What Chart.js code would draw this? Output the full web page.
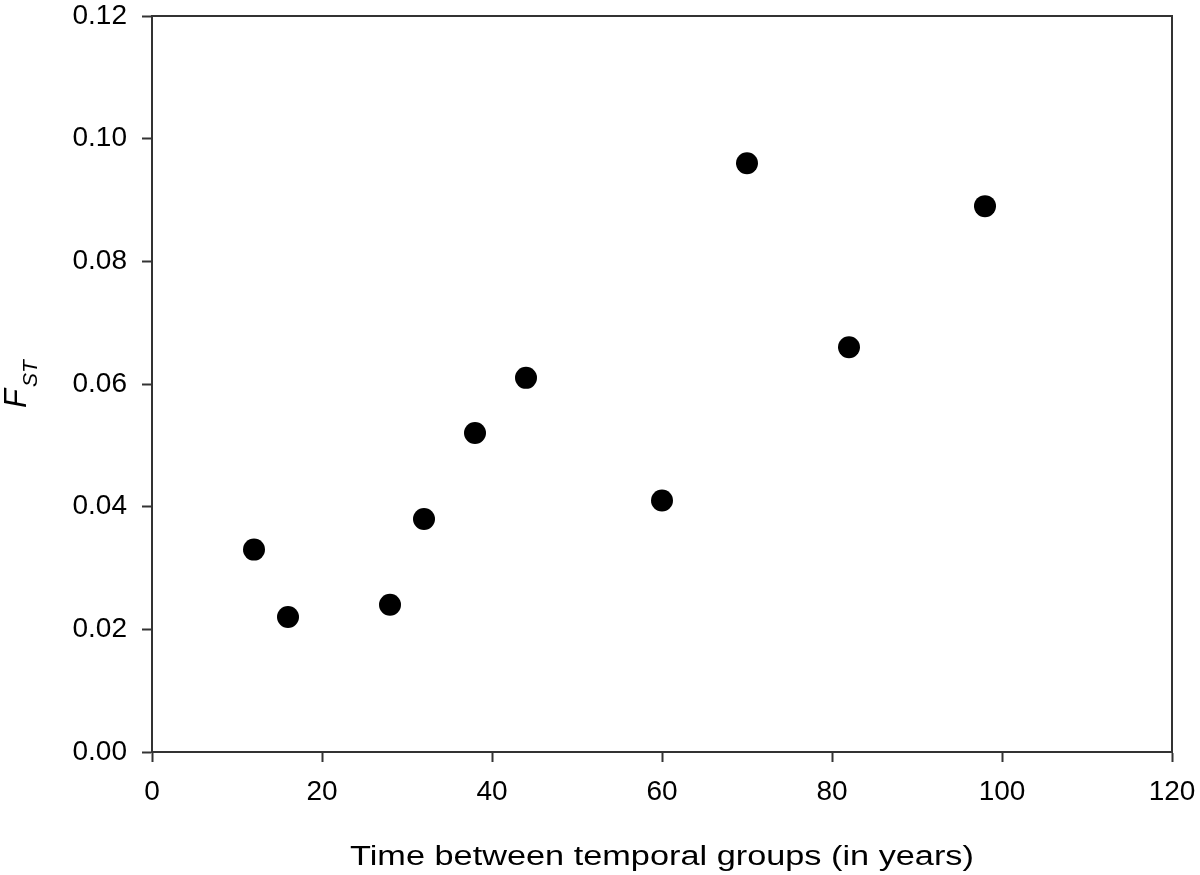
<!DOCTYPE html>
<html>
<head>
<meta charset="utf-8">
<script src="https://cdn.jsdelivr.net/npm/chart.js@4.4.0/dist/chart.umd.min.js"></script>
<style>
  html, body { margin: 0; padding: 0; background: #fff; }
  #wrap { width: 1200px; height: 875px; }
</style>
</head>
<body>
<div id="wrap"><canvas id="myChart" width="1200" height="875"></canvas></div>
<script>
// years between temporal groups, and FST for each pair
var years = [12, 16, 28, 32, 38, 44, 60, 70, 82, 98];
var fst = [0.033, 0.022, 0.024, 0.038, 0.052, 0.061, 0.041, 0.096, 0.066, 0.089];
var xTicks = [0, 20, 40, 60, 80, 100, 120];
var yTicks = ['0.00', '0.02', '0.04', '0.06', '0.08', '0.10', '0.12'];

var fontName = '"Liberation Sans", Arial, sans-serif';
var axisColor = '#333';

// box around the plot + custom axis titles (y title needs a subscript)
var framePlugin = {
    id: 'frame',
    afterDraw: function(chart) {
        var ctx = chart.ctx;
        var a = chart.chartArea;
        ctx.save();
        ctx.strokeStyle = axisColor;
        ctx.lineWidth = 2;
        ctx.beginPath();
        ctx.moveTo(a.left, a.top);
        ctx.lineTo(a.right, a.top);
        ctx.lineTo(a.right, a.bottom);
        ctx.stroke();

        // x title, the original type is a bit wide so stretch it
        ctx.fillStyle = '#000';
        ctx.font = '27px ' + fontName;
        ctx.textAlign = 'center';
        ctx.textBaseline = 'alphabetic';
        ctx.save();
        ctx.translate((a.left + a.right) / 2, 865);
        ctx.scale(1.27, 1);
        ctx.fillText('Time between temporal groups (in years)', 0, 0);
        ctx.restore();

        // y title: F with subscript ST, rotated
        ctx.translate(26, (a.top + a.bottom) / 2);
        ctx.rotate(-Math.PI / 2);
        ctx.textAlign = 'left';
        ctx.font = 'italic 31px ' + fontName;
        var wF = ctx.measureText('F').width;
        ctx.font = 'italic 21px ' + fontName;
        var wS = ctx.measureText('ST').width;
        var x0 = -(wF + wS + 2) / 2;
        ctx.font = 'italic 31px ' + fontName;
        ctx.fillText('F', x0, 0);
        ctx.font = 'italic 21px ' + fontName;
        ctx.fillText('ST', x0 + wF + 2, 11);
        ctx.restore();
    }
};

var ctx = document.getElementById('myChart').getContext('2d');
var chart = new Chart(ctx, {
    type: 'scatter',
    data: {
        datasets: [{
            data: years.map(function(y, i) { return {x: y, y: fst[i]}; }),
            backgroundColor: '#000',
            borderColor: '#000',
            borderWidth: 0,
            pointRadius: 11,
            pointHoverRadius: 11
        }]
    },
    options: {
        responsive: false,
        animation: false,
        layout: { padding: { top: 16, right: 28, left: 0, bottom: 0 } },
        plugins: {
            legend: { display: false },
            tooltip: { enabled: false }
        },
        scales: {
            x: {
                type: 'linear',
                min: xTicks[0],
                max: xTicks[xTicks.length - 1],
                afterBuildTicks: function(scale) {
                    scale.ticks = xTicks.map(function(v) { return {value: v}; });
                },
                afterFit: function(scale) {
                    scale.height = 123;
                    scale.paddingLeft = 0;
                    scale.paddingRight = 0;
                },
                grid: { drawOnChartArea: false, drawTicks: true, tickLength: 10, tickColor: axisColor, tickWidth: 2 },
                border: { display: true, color: axisColor, width: 2 },
                ticks: {
                    color: '#000',
                    padding: 13,
                    maxRotation: 0,
                    font: { family: fontName, size: 28 }
                }
            },
            y: {
                type: 'linear',
                min: 0,
                max: 0.12,
                afterBuildTicks: function(scale) {
                    scale.ticks = yTicks.map(function(t) { return {value: parseFloat(t)}; });
                },
                afterFit: function(scale) {
                    scale.width = 152;
                    scale.paddingTop = 0;
                    scale.paddingBottom = 0;
                },
                grid: { drawOnChartArea: false, drawTicks: true, tickLength: 10, tickColor: axisColor, tickWidth: 2 },
                border: { display: true, color: axisColor, width: 2 },
                ticks: {
                    color: '#000',
                    padding: 15,
                    font: { family: fontName, size: 28 },
                    callback: function(value, index) { return yTicks[index]; }
                }
            }
        }
    },
    plugins: [framePlugin]
});
</script>
</body>
</html>
